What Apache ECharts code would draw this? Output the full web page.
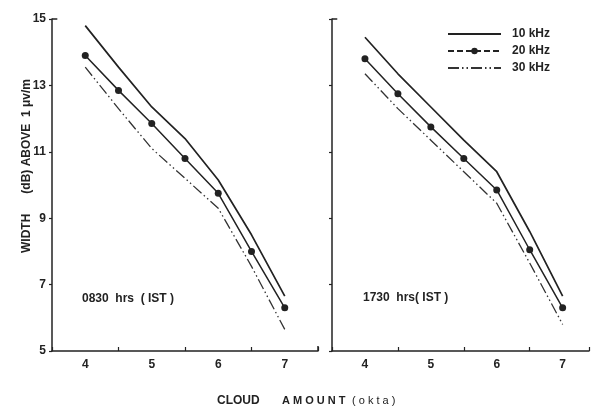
<!DOCTYPE html>
<html><head><meta charset="utf-8">
<script src="https://cdn.jsdelivr.net/npm/echarts@6/dist/echarts.min.js"></script>
<style>html,body{margin:0;padding:0;background:#fff}#c{width:592px;height:408px}</style>
</head><body><div id="c"></div>
<script>
const cloudAmount = [4, 4.5, 5, 5.5, 6, 6.5, 7];
const morning10 = [14.8, 13.55, 12.35, 11.4, 10.15, 8.5, 6.65];
const morning20 = [13.9, 12.85, 11.85, 10.8, 9.75, 8.0, 6.3];
const morning30 = [13.55, 12.3, 11.1, 10.2, 9.3, 7.55, 5.65];
const evening10 = [14.45, 13.35, 12.35, 11.35, 10.4, 8.6, 6.65];
const evening20 = [13.8, 12.75, 11.75, 10.8, 9.85, 8.05, 6.3];
const evening30 = [13.35, 12.3, 11.35, 10.4, 9.45, 7.65, 5.8];
const seriesNames = ['10 kHz', '20 kHz', '30 kHz'];
const panelLabels = ['0830  hrs  ( IST )', '1730  hrs( IST )'];
const yTickLabels = [5, 7, 9, 11, 13, 15];

const INK = '#222';
const FONT = 'Liberation Sans';
const pair = arr => cloudAmount.map((x, i) => [x, arr[i]]);

function styleFor(k) {
  if (k === 0) return {symbol: 'none', itemStyle: {color: INK}, lineStyle: {color: INK, width: 1.7}};
  if (k === 1) return {symbol: 'circle', symbolSize: 7, itemStyle: {color: INK}, lineStyle: {color: INK, width: 1.5}};
  return {symbol: 'none', itemStyle: {color: INK}, lineStyle: {color: '#333', width: 1.3, type: [11, 3, 1.5, 3, 1.5, 3]}};
}

const panels = [[morning10, morning20, morning30], [evening10, evening20, evening30]];
const series = [];
panels.forEach((p, g) => {
  p.forEach((arr, k) => {
    const s = Object.assign({
      type: 'line', name: seriesNames[k], data: pair(arr),
      xAxisIndex: g * 2, yAxisIndex: g, silent: true, animation: false
    }, styleFor(k));
    if (k === 0) {
      s.markLine = {
        silent: true, symbol: 'none', animation: false, label: {show: false},
        lineStyle: {color: INK, width: 1.5, type: 'solid'},
        data: [[{coord: [3.5, 15]}, {coord: [3.58, 15]}]].concat(
          g === 0 ? [[{coord: [7.5, 5]}, {coord: [7.5, 5.15]}]] : [])
      };
    }
    series.push(s);
  });
});

const grids = [
  {left: 52, top: 19, width: 266, height: 332},
  {left: 332, top: 19, width: 259, height: 332}
];
const xMax = [7.5, 7.4];

const xAxis = [];
grids.forEach((gr, g) => {
  xAxis.push({
    type: 'value', gridIndex: g, position: 'bottom', min: 3.5, max: xMax[g], interval: 0.5,
    axisLine: {lineStyle: {color: INK, width: 1.5}},
    axisTick: {show: false}, splitLine: {show: false},
    axisLabel: {color: INK, fontFamily: FONT, fontWeight: 'bold', fontSize: 12, margin: 8,
      formatter: v => Number.isInteger(v) ? String(v) : ''}
  });
  xAxis.push({
    type: 'value', gridIndex: g, position: 'bottom', min: 3.5, max: xMax[g], interval: 1,
    axisLine: {show: false}, splitLine: {show: false}, axisLabel: {show: false},
    axisTick: {show: true, inside: true, length: 4, lineStyle: {color: INK, width: 1.2}}
  });
});

const yAxis = grids.map((gr, g) => ({
  type: 'value', gridIndex: g, min: 5, max: 15, interval: 2,
  axisLine: {show: true, lineStyle: {color: INK, width: 1.5}},
  axisTick: {show: true, length: 3, lineStyle: {color: INK, width: 1.2}},
  splitLine: {show: false},
  axisLabel: {show: g === 0, color: INK, fontFamily: FONT, fontWeight: 'bold', fontSize: 12, margin: 6,
    formatter: v => yTickLabels.includes(v) ? String(v) : ''}
}));

const txt = (x, y, text, extra) => ({
  type: 'text', x, y, silent: true,
  style: Object.assign({text, fill: INK, font: 'bold 12px "Liberation Sans"', textVerticalAlign: 'middle'}, extra || {})
});

const hidden = {opacity: 0, borderWidth: 0};
const chart = echarts.init(document.getElementById('c'), null, {renderer: 'canvas'});
chart.setOption({
  animation: false,
  backgroundColor: '#fff',
  grid: grids,
  xAxis, yAxis, series,
  legend: {
    orient: 'vertical', left: 442, top: 23, itemWidth: 53, itemHeight: 8, itemGap: 5,
    selectedMode: false,
    textStyle: {color: INK, fontFamily: FONT, fontWeight: 'bold', fontSize: 12, padding: [0, 0, 0, 6]},
    data: [
      {name: seriesNames[0], itemStyle: hidden},
      {name: seriesNames[1], lineStyle: {type: [6, 3]}},
      {name: seriesNames[2], itemStyle: hidden}
    ]
  },
  graphic: [
    txt(82, 299, panelLabels[0]),
    txt(363, 298, panelLabels[1]),
    txt(217, 401, 'CLOUD', {font: 'bold 12px "Liberation Sans"'}),
    txt(282, 401, 'A M O U N T', {font: 'bold 11px "Liberation Sans"'}),
    txt(352, 401, '( o k t a )', {font: '11px "Liberation Sans"'}),
    {type: 'text', x: 27, y: 166, rotation: Math.PI / 2, silent: true,
     style: {text: 'WIDTH      (dB) ABOVE  1 μv/m', fill: INK, font: 'bold 12px "Liberation Sans"',
       textAlign: 'center', textVerticalAlign: 'middle'}}
  ]
});
</script></body></html>
